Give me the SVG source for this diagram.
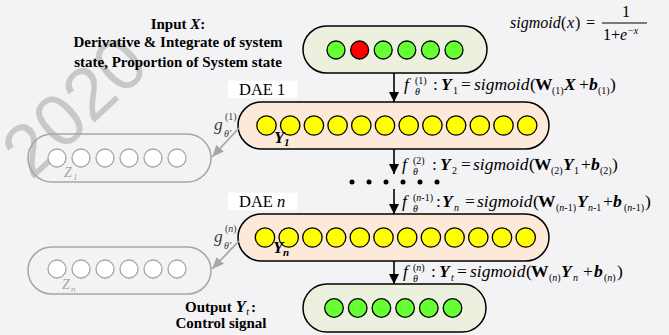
<svg xmlns="http://www.w3.org/2000/svg" width="669" height="335" viewBox="0 0 669 335">
<style>
.m{font-family:"Liberation Serif","Times New Roman",serif;font-size:17.5px;fill:#000}
.it{font-style:italic}
.bd{font-weight:bold}
.s{font-size:10px}
.lbl{font-family:"Liberation Serif","Times New Roman",serif;font-weight:bold;font-size:15px;fill:#000}
.ny{fill:#fde9d9;stroke:#000;stroke-width:1.5}
.ng{fill:#ebf1de;stroke:#000;stroke-width:1.5}
.nz{fill:none;stroke:#a6a6a6;stroke-width:1.5}
.cy{fill:#ffff00;stroke:#000;stroke-width:1.3}
.cg{fill:#66ff33;stroke:#000;stroke-width:1.3}
.cr{fill:#ff0000;stroke:#000;stroke-width:1.3}
.cz{fill:#fff;stroke:#a6a6a6;stroke-width:1.3}
.ab{stroke:#000;stroke-width:1.6;fill:none}
.ag{stroke:#a6a6a6;stroke-width:1.8;fill:none}
.dae{fill:#fff;stroke:#ececec;stroke-width:0.8}
</style>
<defs>
<marker id="mb" viewBox="0 0 10 10" refX="10" refY="5" markerWidth="10" markerHeight="10" markerUnits="userSpaceOnUse" orient="auto"><path d="M0,0L10,5L0,10z" fill="#000"/></marker>
<marker id="mg" viewBox="0 0 12 10" refX="12" refY="5" markerWidth="12" markerHeight="10" markerUnits="userSpaceOnUse" orient="auto"><path d="M0,0L12,5L0,10z" fill="#a6a6a6"/></marker>
</defs>
<rect width="669" height="335" fill="#f3f3f5"/>
<text transform="translate(74,106) rotate(-43)" x="0" y="26" text-anchor="middle" font-family="Liberation Sans, Arial, sans-serif" font-size="74" fill="#c8c8c8">2020</text>

<g id="input-label">
<text class="lbl" text-anchor="middle" x="178" y="29">Input <tspan class="it">X</tspan>:</text>
<text class="lbl" text-anchor="middle" x="178" y="47">Derivative &amp; Integrate of system</text>
<text class="lbl" text-anchor="middle" x="178" y="67">state, Proportion of System state</text>
</g>

<g id="sigmoid-def">
<text class="m" style="font-size:16px"><tspan class="it" x="510" y="28">sigmoid</tspan><tspan x="561" y="28">(</tspan><tspan class="it" x="567" y="28">x</tspan><tspan x="575" y="28">)</tspan><tspan x="586" y="28">=</tspan><tspan x="622" y="17">1</tspan><tspan x="603" y="40">1</tspan><tspan x="611" y="40">+</tspan><tspan class="it" x="620" y="40">e</tspan><tspan style="font-size:10px" x="628" y="34">−<tspan class="it">x</tspan></tspan></text>
<line x1="602" y1="23" x2="647" y2="23" stroke="#000" stroke-width="1"/>
</g>

<g id="input-node">
<rect class="ng" x="303" y="26" width="184" height="47" rx="23.5"/>
<circle class="cg" cx="336" cy="50" r="9"/>
<circle class="cr" cx="359.6" cy="50" r="9"/>
<circle class="cg" cx="383.2" cy="50" r="9"/>
<circle class="cg" cx="406.8" cy="50" r="9"/>
<circle class="cg" cx="430.4" cy="50" r="9"/>
<circle class="cg" cx="454" cy="50" r="9"/>
</g>

<g id="dae1-label">
<rect class="dae" x="227" y="80" width="71" height="19"/>
<text class="m" x="239" y="95" style="font-size:16.5px">DAE 1</text>
</g>

<g id="dae1-node">
<rect class="ny" x="238" y="102" width="311" height="47" rx="23.5"/>
<circle class="cy" cx="266.5" cy="125.5" r="9.7"/>
<circle class="cy" cx="290.2" cy="125.5" r="9.7"/>
<circle class="cy" cx="313.9" cy="125.5" r="9.7"/>
<circle class="cy" cx="337.6" cy="125.5" r="9.7"/>
<circle class="cy" cx="361.3" cy="125.5" r="9.7"/>
<circle class="cy" cx="385" cy="125.5" r="9.7"/>
<circle class="cy" cx="408.7" cy="125.5" r="9.7"/>
<circle class="cy" cx="432.4" cy="125.5" r="9.7"/>
<circle class="cy" cx="456.1" cy="125.5" r="9.7"/>
<circle class="cy" cx="479.8" cy="125.5" r="9.7"/>
<circle class="cy" cx="503.5" cy="125.5" r="9.7"/>
<circle class="cy" cx="527.2" cy="125.5" r="9.7"/>
<text class="m bd it" x="274" y="143" style="font-size:17px">Y<tspan x="284" y="146" style="font-size:11px">1</tspan></text>
</g>

<g id="z1-node">
<rect class="nz" x="28" y="134" width="183" height="48" rx="24"/>
<circle class="cz" cx="57" cy="158" r="9"/>
<circle class="cz" cx="81" cy="158" r="9"/>
<circle class="cz" cx="105" cy="158" r="9"/>
<circle class="cz" cx="129" cy="158" r="9"/>
<circle class="cz" cx="153" cy="158" r="9"/>
<circle class="cz" cx="177" cy="158" r="9"/>
<text class="m it" x="64" y="177" style="font-size:14px;fill:#a6a6a6">Z<tspan x="73" y="180" style="font-size:9px">1</tspan></text>
</g>

<g id="daen-label">
<rect class="dae" x="227" y="192" width="71" height="19"/>
<text class="m" x="239" y="207" style="font-size:16.5px">DAE <tspan class="it">n</tspan></text>
</g>

<g id="daen-node">
<rect class="ny" x="238" y="214" width="311" height="47" rx="23.5"/>
<circle class="cy" cx="265" cy="237.5" r="9.7"/>
<circle class="cy" cx="288.7" cy="237.5" r="9.7"/>
<circle class="cy" cx="312.4" cy="237.5" r="9.7"/>
<circle class="cy" cx="336.1" cy="237.5" r="9.7"/>
<circle class="cy" cx="359.8" cy="237.5" r="9.7"/>
<circle class="cy" cx="383.5" cy="237.5" r="9.7"/>
<circle class="cy" cx="407.2" cy="237.5" r="9.7"/>
<circle class="cy" cx="430.9" cy="237.5" r="9.7"/>
<circle class="cy" cx="454.6" cy="237.5" r="9.7"/>
<circle class="cy" cx="478.3" cy="237.5" r="9.7"/>
<circle class="cy" cx="502" cy="237.5" r="9.7"/>
<circle class="cy" cx="525.7" cy="237.5" r="9.7"/>
<text class="m bd it" x="273" y="253" style="font-size:17px">Y<tspan x="283" y="256" style="font-size:11px">n</tspan></text>
</g>

<g id="zn-node">
<rect class="nz" x="28" y="247" width="183" height="47" rx="23.5"/>
<circle class="cz" cx="57" cy="269" r="9"/>
<circle class="cz" cx="81" cy="269" r="9"/>
<circle class="cz" cx="105" cy="269" r="9"/>
<circle class="cz" cx="129" cy="269" r="9"/>
<circle class="cz" cx="153" cy="269" r="9"/>
<circle class="cz" cx="177" cy="269" r="9"/>
<text class="m it" x="62" y="289" style="font-size:14px;fill:#a6a6a6">Z<tspan x="71" y="292" style="font-size:9px">n</tspan></text>
</g>

<g id="output-node">
<rect class="ng" x="303" y="284" width="183" height="48" rx="24"/>
<circle class="cg" cx="334" cy="308" r="9.3"/>
<circle class="cg" cx="357.7" cy="308" r="9.3"/>
<circle class="cg" cx="381.4" cy="308" r="9.3"/>
<circle class="cg" cx="405.1" cy="308" r="9.3"/>
<circle class="cg" cx="428.8" cy="308" r="9.3"/>
<circle class="cg" cx="452.5" cy="308" r="9.3"/>
</g>

<g id="output-label">
<text class="lbl" x="185" y="312">Output <tspan class="it" style="font-size:17px">Y</tspan><tspan class="it" style="font-size:10px;font-weight:normal" dx="0.5" dy="3">t</tspan><tspan dx="2" dy="-3">:</tspan></text>
<text class="lbl" text-anchor="middle" x="221" y="328">Control signal</text>
</g>

<g id="connectors">
<line class="ab" x1="394" y1="73" x2="394" y2="102" marker-end="url(#mb)"/>
<line class="ab" x1="394" y1="149" x2="394" y2="174" marker-end="url(#mb)"/>
<line class="ab" x1="394" y1="189" x2="394" y2="214" marker-end="url(#mb)"/>
<line class="ab" x1="394" y1="261" x2="394" y2="284" marker-end="url(#mb)"/>
<line class="ag" x1="239" y1="128" x2="212" y2="157" marker-end="url(#mg)"/>
<line class="ag" x1="239" y1="241" x2="212" y2="269" marker-end="url(#mg)"/>
<g fill="#000">
<circle cx="352" cy="182" r="2.5"/><circle cx="369" cy="182" r="2.5"/><circle cx="386" cy="182" r="2.5"/><circle cx="403" cy="182" r="2.5"/><circle cx="420" cy="182" r="2.5"/><circle cx="437" cy="182" r="2.5"/>
</g>
<text class="m" style="fill:#404040"><tspan class="it" x="214" y="130">g</tspan><tspan class="s" x="225" y="120">(1)</tspan><tspan class="s it" x="224" y="137">θ′</tspan></text>
<text class="m" style="fill:#404040"><tspan class="it" x="214" y="242">g</tspan><tspan class="s" x="225" y="232">(<tspan class="it">n</tspan>)</tspan><tspan class="s it" x="224" y="249">θ′</tspan></text>
<text class="m"><tspan class="it" x="404" y="90">f</tspan><tspan class="s" x="415" y="84">(1)</tspan><tspan class="s it" x="415" y="95">θ</tspan><tspan x="433" y="90">:</tspan><tspan class="bd it" x="441" y="90">Y</tspan><tspan class="s" x="453" y="94">1</tspan><tspan x="461" y="90">=</tspan><tspan class="it" x="474" y="90">sigmoid</tspan><tspan x="530" y="90">(</tspan><tspan class="bd" x="535" y="90">W</tspan><tspan class="s" x="552" y="94">(1)</tspan><tspan class="bd it" x="564" y="90">X</tspan><tspan x="579" y="90">+</tspan><tspan class="bd it" x="589" y="90">b</tspan><tspan class="s" x="598" y="94">(1)</tspan><tspan x="610" y="90">)</tspan></text>
<text class="m"><tspan class="it" x="402" y="170">f</tspan><tspan class="s" x="413" y="164">(2)</tspan><tspan class="s it" x="413" y="175">θ</tspan><tspan x="432" y="170">:</tspan><tspan class="bd it" x="440" y="170">Y</tspan><tspan class="s" x="452" y="174">2</tspan><tspan x="461" y="170">=</tspan><tspan class="it" x="473" y="170">sigmoid</tspan><tspan x="529" y="170">(</tspan><tspan class="bd" x="534" y="170">W</tspan><tspan class="s" x="551" y="174">(2)</tspan><tspan class="bd it" x="563" y="170">Y</tspan><tspan class="s" x="574" y="174">1</tspan><tspan x="581" y="170">+</tspan><tspan class="bd it" x="591" y="170">b</tspan><tspan class="s" x="600" y="174">(2)</tspan><tspan x="612" y="170">)</tspan></text>
<text class="m"><tspan class="it" x="402" y="207">f</tspan><tspan class="s" x="413" y="201">(<tspan class="it">n</tspan>-1)</tspan><tspan class="s it" x="413" y="212">θ</tspan><tspan x="436" y="207">:</tspan><tspan class="bd it" x="442" y="207">Y</tspan><tspan class="s it" x="454" y="211">n</tspan><tspan x="465" y="207">=</tspan><tspan class="it" x="477" y="207">sigmoid</tspan><tspan x="533" y="207">(</tspan><tspan class="bd" x="538" y="207">W</tspan><tspan class="s" x="556" y="211">(<tspan class="it">n</tspan>-1)</tspan><tspan class="bd it" x="577" y="207">Y</tspan><tspan class="s" x="588" y="211"><tspan class="it">n</tspan>-1</tspan><tspan x="603" y="207">+</tspan><tspan class="bd it" x="613" y="207">b</tspan><tspan class="s" x="624" y="211">(<tspan class="it">n</tspan>-1)</tspan><tspan x="645" y="207">)</tspan></text>
<text class="m"><tspan class="it" x="403" y="277">f</tspan><tspan class="s" x="413" y="271">(<tspan class="it">n</tspan>)</tspan><tspan class="s it" x="413" y="282">θ</tspan><tspan x="431" y="277">:</tspan><tspan class="bd it" x="439" y="277">Y</tspan><tspan class="s it" x="451" y="281">t</tspan><tspan x="457" y="277">=</tspan><tspan class="it" x="470" y="277">sigmoid</tspan><tspan x="526" y="277">(</tspan><tspan class="bd" x="531" y="277">W</tspan><tspan class="s" x="549" y="281">(<tspan class="it">n</tspan>)</tspan><tspan class="bd it" x="561" y="277">Y</tspan><tspan class="s it" x="573" y="281">n</tspan><tspan x="583" y="277">+</tspan><tspan class="bd it" x="594" y="277">b</tspan><tspan class="s" x="604" y="281">(<tspan class="it">n</tspan>)</tspan><tspan x="617" y="277">)</tspan></text>
</g>
</svg>
